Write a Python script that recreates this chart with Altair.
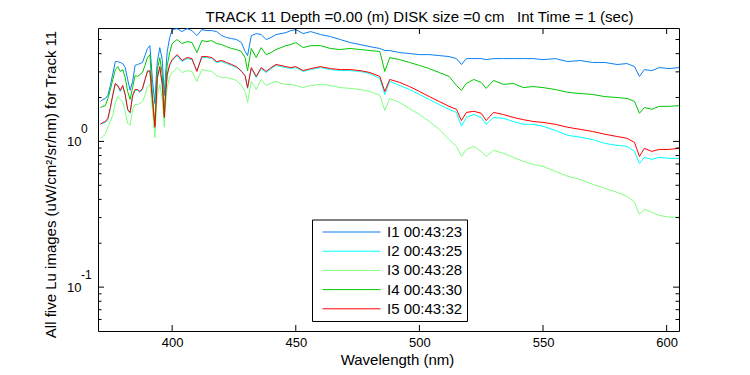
import altair as alt
import pandas as pd

# ---------------- data ----------------
wavelength = [
    371, 372, 373, 374, 375, 376, 377, 378, 379, 380, 381, 382, 383, 384, 385, 386, 387, 388, 389, 390, 391, 392, 393,
    393.5, 394, 395, 396, 396.8, 397.5, 398, 399, 400,
    402, 404, 406, 408, 410, 412, 414, 416, 418, 420, 422, 424, 426, 428,
    429.5, 430.5, 432, 434, 436, 438, 440, 442, 444, 446, 448, 450,
    453, 456, 460, 464, 468, 472, 476, 480, 484, 486, 488,
    492, 496, 500, 504, 508, 512, 515, 517, 519, 522, 525, 527,
    530, 534, 538, 542, 546, 550, 555, 560, 565, 570, 575, 580, 584, 587, 589, 591, 594, 597, 601, 605,
]

i1 = [
    1.88, 1.94, 1.97, 2.07, 2.42, 2.92, 3.53, 3.53, 3.48, 3.42, 3.21, 2.66, 2.24, 2.58, 3.32, 3.37, 3.42, 3.48, 3.88, 4.34, 4.54, 2.66, 1.82,
    2.66, 3.53, 4.40, 3.64, 2.07, 3.21, 4.14, 5.16, 5.85,
    5.94, 5.67, 5.94, 5.76, 5.32, 5.85, 5.76, 5.76, 5.67, 5.32, 5.16, 5.08, 5.00, 4.77,
    4.14, 3.88, 5.32, 5.49, 5.41, 5.00, 5.16, 5.41, 5.49, 5.58, 5.76, 5.85,
    5.49, 5.67, 5.41, 5.24, 5.00, 4.77, 4.62, 4.47, 4.34, 4.20, 4.20,
    4.07, 4.01, 3.94, 3.94, 3.88, 3.82, 3.70, 3.37, 3.70, 3.70, 3.70, 3.64,
    3.70, 3.70, 3.70, 3.70, 3.70, 3.64, 3.70, 3.53, 3.59, 3.48, 3.48, 3.37, 3.42, 3.26, 2.79, 3.11, 3.06, 3.21, 3.16, 3.21,
]

i2 = [
    1.33, 1.33, 1.35, 1.41, 1.68, 2.07, 2.46, 2.38, 2.20, 2.38, 2.07, 1.63, 1.56, 2.03, 2.24, 2.24, 2.17, 2.27, 2.62, 3.06, 3.02, 1.91, 1.23,
    1.76, 2.70, 3.21, 2.42, 1.44, 2.24, 2.83, 3.32, 3.59,
    3.88, 3.53, 3.70, 3.64, 3.06, 3.76, 3.76, 3.70, 3.48, 3.53, 3.42, 3.32, 3.21, 3.06,
    2.79, 2.31, 3.16, 2.74, 3.16, 2.97, 3.16, 3.32, 3.26, 3.21, 3.16, 3.21,
    3.02, 3.11, 3.21, 3.11, 3.06, 3.06, 3.02, 2.92, 2.70, 2.10, 2.58,
    2.42, 2.27, 2.10, 1.94, 1.79, 1.66, 1.58, 1.27, 1.46, 1.53, 1.46, 1.31,
    1.46, 1.44, 1.37, 1.31, 1.31, 1.27, 1.19, 1.10, 1.07, 1.03, 0.969, 0.939, 0.924, 0.854, 0.707, 0.777, 0.753, 0.777, 0.765, 0.765,
]

i3 = [
    1.05, 1.08, 1.13, 1.25, 1.37, 1.51, 1.85, 2.03, 1.94, 1.85, 1.61, 1.33, 1.29, 1.66, 1.79, 1.79, 1.82, 1.88, 2.07, 2.38, 2.46, 1.66, 1.06,
    1.53, 2.10, 2.46, 1.94, 1.25, 1.94, 2.34, 2.79, 2.97,
    3.21, 2.97, 3.06, 3.02, 2.58, 3.11, 3.06, 3.02, 2.83, 2.74, 2.74, 2.70, 2.62, 2.42,
    2.20, 1.85, 2.58, 2.27, 2.66, 2.42, 2.50, 2.58, 2.50, 2.46, 2.46, 2.42,
    2.34, 2.42, 2.46, 2.42, 2.34, 2.31, 2.27, 2.20, 2.07, 1.63, 1.97,
    1.85, 1.68, 1.53, 1.37, 1.21, 1.03, 0.924, 0.789, 0.881, 0.924, 0.854, 0.789,
    0.868, 0.828, 0.777, 0.730, 0.696, 0.674, 0.623, 0.576, 0.549, 0.508, 0.477, 0.447, 0.420, 0.382, 0.316, 0.343, 0.326, 0.311, 0.302, 0.302,
]

i4 = [
    1.71, 1.74, 1.76, 1.97, 2.27, 2.66, 3.11, 3.26, 3.02, 3.11, 2.74, 2.20, 1.94, 2.34, 2.83, 2.79, 2.88, 2.97, 3.32, 3.76, 3.94, 2.10, 1.29,
    2.10, 3.11, 3.76, 2.88, 1.51, 2.66, 3.32, 4.07, 4.69,
    5.00, 4.69, 4.84, 4.77, 4.07, 4.92, 4.84, 4.92, 4.69, 4.62, 4.47, 4.34, 4.27, 4.14,
    3.76, 3.06, 4.34, 3.76, 4.40, 3.94, 4.07, 4.27, 4.40, 4.54, 4.62, 4.77,
    4.40, 4.54, 4.54, 4.34, 4.27, 4.34, 4.27, 4.20, 4.14, 3.02, 3.76,
    3.64, 3.48, 3.32, 3.16, 2.97, 2.79, 2.42, 2.24, 2.50, 2.66, 2.54, 2.31,
    2.62, 2.46, 2.50, 2.34, 2.38, 2.34, 2.27, 2.17, 2.13, 2.10, 2.03, 2.00, 1.97, 1.88, 1.56, 1.71, 1.66, 1.74, 1.74, 1.76,
]

i5 = [
    1.31, 1.35, 1.37, 1.44, 1.71, 2.10, 2.50, 2.42, 2.24, 2.42, 2.10, 1.66, 1.58, 2.07, 2.27, 2.27, 2.20, 2.31, 2.66, 3.02, 3.06, 1.94, 1.25,
    1.79, 2.74, 3.26, 2.46, 1.46, 2.27, 2.88, 3.37, 3.64,
    3.94, 3.59, 3.76, 3.70, 3.02, 3.82, 3.82, 3.76, 3.53, 3.59, 3.48, 3.37, 3.26, 3.02,
    2.83, 2.34, 3.21, 2.79, 3.21, 3.02, 3.21, 3.37, 3.32, 3.26, 3.21, 3.26,
    3.06, 3.16, 3.26, 3.16, 3.11, 3.11, 3.06, 2.97, 2.79, 2.20, 2.66,
    2.54, 2.38, 2.20, 2.03, 1.88, 1.74, 1.66, 1.39, 1.58, 1.61, 1.56, 1.39,
    1.58, 1.53, 1.46, 1.41, 1.37, 1.35, 1.31, 1.25, 1.21, 1.17, 1.12, 1.08, 1.05, 0.984, 0.789, 0.896, 0.854, 0.881, 0.881, 0.896,
]

series_names = ["I1 00:43:23", "I2 00:43:25", "I3 00:43:28", "I4 00:43:30", "I5 00:43:32"]
series_colors = ["#0a7ff5", "#00ffff", "#80ff80", "#00c800", "#ff0000"]
series_values = [i1, i2, i3, i4, i5]

x_ticks = [400, 450, 500, 550, 600]
y_major = [0.1, 1]
y_minor = [0.06, 0.07, 0.08, 0.09, 0.2, 0.3, 0.4, 0.5, 0.6, 0.7, 0.8, 0.9, 2, 3, 4, 5]
y_exponents = ["-1", "0"]

title_text = "TRACK 11 Depth =0.00 (m) DISK size =0 cm \u00a0\u00a0Int Time = 1 (sec)"
x_title = "Wavelength (nm)"
y_title = "All five Lu images (uW/cm\u00b2/sr/nm) for Track 11"

# ---------------- layout ----------------
W, H = 581, 303
FONT = "Liberation Sans"

rows = []
for name, vals in zip(series_names, series_values):
    for w, v in zip(wavelength, vals):
        rows.append({"wl": w, "v": v, "s": name})
df = pd.DataFrame(rows)

xscale = alt.Scale(domain=[370, 605], nice=False, zero=False)
yscale = alt.Scale(type="log", domain=[0.05, 6], nice=False)

xaxis = alt.Axis(
    values=x_ticks, ticks=False, tickSize=0, domain=False, grid=False,
    labelFontSize=13, labelPadding=5, labelColor="black", labelFont=FONT,
    title=x_title, titleFontSize=15, titleFontWeight="normal", titleColor="black",
    titleFont=FONT, titleX=299, titleY=33, titleBaseline="alphabetic", titleAlign="center",
)
yaxis = alt.Axis(
    values=y_major, labelExpr="'10'", ticks=False, tickSize=0, domain=False, grid=False,
    labelFontSize=13, labelPadding=17, labelColor="black", labelFont=FONT,
    title=y_title, titleFontSize=15, titleFontWeight="normal", titleColor="black",
    titleFont=FONT, titleAngle=270, titleX=-43, titleY=156,
    titleBaseline="alphabetic", titleAlign="center",
)


def X(field="wl"):
    return alt.X(f"{field}:Q", scale=xscale, axis=xaxis)


def Y(field="v"):
    return alt.Y(f"{field}:Q", scale=yscale, axis=yaxis)


lines = alt.Chart(df).mark_line(strokeWidth=1).encode(
    x=X(),
    y=Y(),
    color=alt.Color("s:N", scale=alt.Scale(domain=series_names, range=series_colors), legend=None),
)

xt = pd.DataFrame({"wl": x_ticks})
xt_bottom = alt.Chart(xt).mark_rule(color="black", strokeWidth=1).encode(
    x=X(), y=alt.value(H), y2=alt.value(H - 6)
)
xt_top = alt.Chart(xt).mark_rule(color="black", strokeWidth=1).encode(
    x=X(), y=alt.value(0), y2=alt.value(6)
)

ymaj = pd.DataFrame({"v": y_major})
ymin = pd.DataFrame({"v": y_minor})


def ytick(data, x0, x1):
    return alt.Chart(data).mark_rule(color="black", strokeWidth=1).encode(
        y=Y(), x=alt.value(x0), x2=alt.value(x1)
    )


yt = [
    ytick(ymaj, 0, 6), ytick(ymin, 0, 3.5),
    ytick(ymaj, W, W - 6), ytick(ymin, W, W - 3.5),
]

expo = alt.Chart(pd.DataFrame({"v": [0.1, 1], "e": y_exponents})).mark_text(
    align="left", baseline="middle", dy=-12, fontSize=12, font=FONT, color="black"
).encode(y=Y(), x=alt.value(-17), text="e:N")

one = pd.DataFrame({"a": [0]})

title_mark = alt.Chart(one).mark_text(
    align="center", baseline="alphabetic", fontSize=15, font=FONT, color="black"
).encode(x=alt.value(W / 2 + 31), y=alt.value(-6), text=alt.value(title_text))

# ---------------- legend ----------------
legend_layers = [
    alt.Chart(one).mark_rect(fill="white", stroke="black", strokeWidth=1).encode(
        x=alt.value(214.5), x2=alt.value(369.5), y=alt.value(192), y2=alt.value(293.5)
    )
]
for k, (name, col) in enumerate(zip(series_names, series_colors)):
    yy = 204 + k * 19.2
    legend_layers.append(
        alt.Chart(one).mark_rule(strokeWidth=1).encode(
            x=alt.value(224.5), x2=alt.value(282.5), y=alt.value(yy), color=alt.value(col)
        )
    )
    legend_layers.append(
        alt.Chart(one).mark_text(align="left", baseline="middle", fontSize=15, font=FONT, color="black").encode(
            x=alt.value(289), y=alt.value(yy), text=alt.value(name)
        )
    )

chart = alt.layer(lines, xt_bottom, xt_top, *yt, expo, title_mark, *legend_layers).properties(
    width=W,
    height=H,
    padding={"left": 90, "top": 20, "right": 60, "bottom": 38},
    autosize=alt.AutoSizeParams(type="none"),
).configure(font=FONT).configure_view(stroke="black", strokeWidth=1)

chart.save("out.html", embed_options={"renderer": "svg", "actions": False})
